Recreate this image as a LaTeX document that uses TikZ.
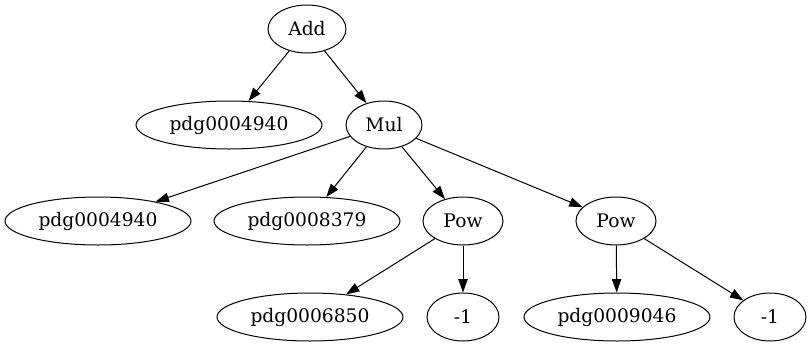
\documentclass[tikz,border=0pt]{standalone}
\usepackage{fontspec}
\setmainfont{DejaVu Serif}
\usetikzlibrary{arrows.meta}
\usetikzlibrary{shapes}

\begin{document}
\begin{tikzpicture}[x=0.75pt,y=-0.75pt,
		>={Triangle[length=10pt,width=7pt]},
		every node/.style={draw, ellipse, line width=0.75pt, inner sep=0pt,
			minimum height=36pt, font=\fontsize{14}{16}\selectfont},
		leaf/.style={minimum width=139.5pt},
		op/.style={minimum width=58.5pt},
		num/.style={minimum width=54pt}]
		\useasboundingbox (0,0) rectangle (811,347);
		%% The Nodes
		\node[op] (add) at (307,29) {Add};
		\node[leaf] (sym1) at (229,125) {pdg0004940};
		\node[op, minimum width=57pt] (mul) at (384,125) {Mul};
		\node[leaf] (sym2) at (98,221) {pdg0004940};
		\node[leaf] (sym3) at (307,221) {pdg0008379};
		\node[op, minimum width=60pt] (pow1) at (463,221) {Pow};
		\node[op, minimum width=60pt] (pow2) at (616,221) {Pow};
		\node[leaf] (sym4) at (310,317) {pdg0006850};
		\node[num] (neg1) at (463,317) {-1};
		\node[leaf] (sym5) at (617,317) {pdg0009046};
		\node[num] (neg2) at (770,317) {-1};
		%% The Edges
		\draw[->, line width=0.75pt] (add) -- (sym1);
		\draw[->, line width=0.75pt] (add) -- (mul);
		\draw[->, line width=0.75pt] (mul) -- (sym2);
		\draw[->, line width=0.75pt] (mul) -- (sym3);
		\draw[->, line width=0.75pt] (mul) -- (pow1);
		\draw[->, line width=0.75pt] (mul) -- (pow2);
		\draw[->, line width=0.75pt] (pow1) -- (sym4);
		\draw[->, line width=0.75pt] (pow1) -- (neg1);
		\draw[->, line width=0.75pt] (pow2) -- (sym5);
		\draw[->, line width=0.75pt] (pow2) -- (neg2);
	\end{tikzpicture}
\end{document}
